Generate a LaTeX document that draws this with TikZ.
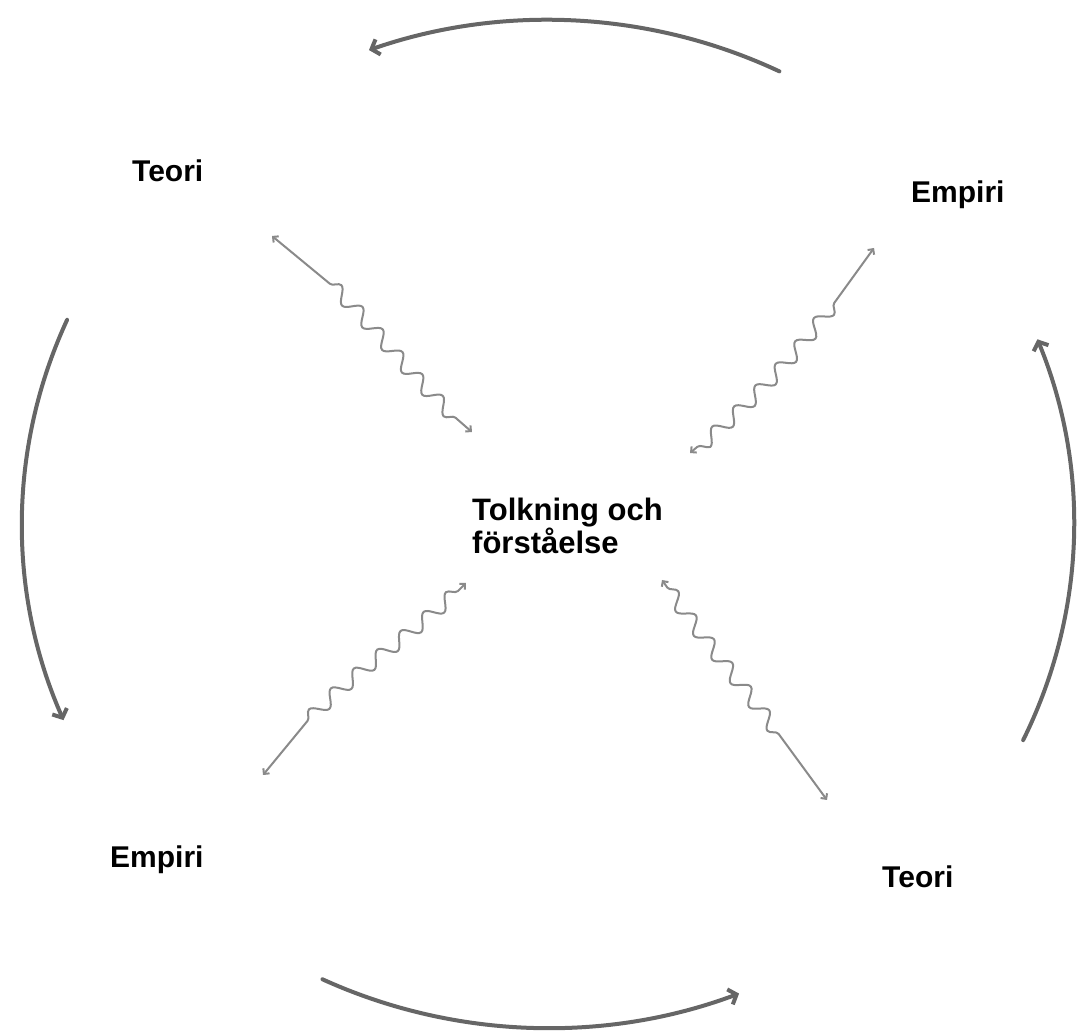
\documentclass[tikz,border=0pt]{standalone}
\usepackage{fontspec}
\setmainfont{Liberation Sans}
\usetikzlibrary{arrows.meta,decorations.pathmorphing}
\definecolor{arcgray}{HTML}{666666}
\definecolor{wavegray}{HTML}{8A8A8A}
\tikzset{
  cyclearc/.style={draw=arcgray, line width=4pt, line cap=round,
    -{Straight Barb[length=7pt,width=16pt]}},
  wavy/.style={draw=wavegray, line width=2pt,
    {Straight Barb[length=4pt,width=8pt]}-{Straight Barb[length=4pt,width=8pt]},
    decorate, decoration={snake, amplitude=7pt, segment length=30pt}},
  label/.style={font=\bfseries\fontsize{30}{31}\selectfont, anchor=base west, inner sep=0pt},
  centre/.style={font=\bfseries\fontsize{31}{31}\selectfont, anchor=base west, inner sep=0pt, align=left}
}
\begin{document}
\begin{tikzpicture}[x=1pt,y=1pt]
\useasboundingbox (0,0) rectangle (1078,1032);
% labels
\node[label] (teoriA) at (132,850) {Teori};
\node[label] (empiriA) at (911,829) {Empiri};
\node[label] (empiriB) at (110,164) {Empiri};
\node[label] (teoriB) at (882,144) {Teori};
\node[centre] (mid) at (472,478) {Tolkning och\\förståelse};
% wavy end points
\coordinate (tlO) at (272,796); \coordinate (tlI) at (472,600);
\coordinate (trO) at (874,784); \coordinate (trI) at (690,579);
\coordinate (blO) at (263,257); \coordinate (blI) at (466,449);
\coordinate (brO) at (827,232); \coordinate (brI) at (662,452);
\draw[wavy, decoration={pre length=75pt, post length=8pt}] (tlO) to[out=-35, in=140] (tlI);
\draw[wavy, decoration={pre length=68pt, post length=8pt}] (trO) to[out=-125, in=40] (trI);
\draw[wavy, decoration={pre length=70pt, post length=8pt}] (blO) to[out=55, in=-135] (blI);
\draw[wavy, decoration={pre length=82pt, post length=8pt}] (brO) to[out=125, in=-55] (brI);
% cycle arcs
\coordinate (c) at (548,508);
\draw[cyclearc] (c) ++(63.9:526pt and 504pt) arc[start angle=63.9, end angle=109.9, x radius=526pt, y radius=504pt];
\draw[cyclearc] (c) ++(156.1:526pt and 504pt) arc[start angle=156.1, end angle=202.9, x radius=526pt, y radius=504pt];
\draw[cyclearc] (c) ++(244.6:526pt and 504pt) arc[start angle=244.6, end angle=291.3, x radius=526pt, y radius=504pt];
\draw[cyclearc] (c) ++(334.6:526pt and 504pt) arc[start angle=334.6, end angle=381.5, x radius=526pt, y radius=504pt];
\end{tikzpicture}
\end{document}
